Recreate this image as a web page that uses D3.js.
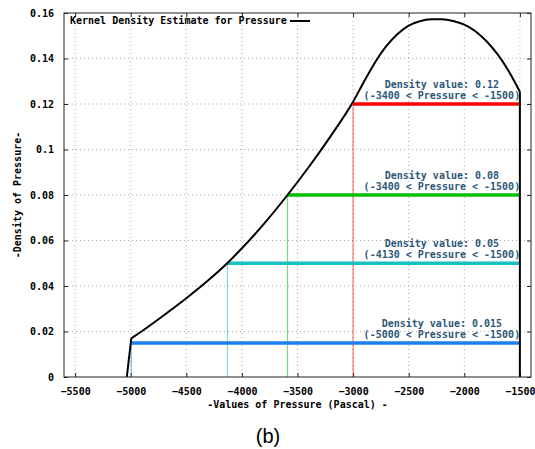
<!DOCTYPE html>
<html>
<head>
<meta charset="utf-8">
<script src="https://cdn.jsdelivr.net/npm/d3@7/dist/d3.min.js"></script>
<style>
  body { margin: 0; background: #fff; }
  svg { display: block; }
  text { font-family: 'DejaVu Sans Mono', monospace; font-weight: bold; font-size: 10px; }
</style>
</head>
<body>
<div id="chart"></div>
<script>
// kernel density curve
const pressure = [-5035, -4995, -4900, -4750, -4500, -4300, -4130, -4000, -3800, -3590, -3400, -3200, -3000,
  -2900, -2800, -2700, -2600, -2500, -2400, -2300, -2200, -2100, -2000, -1900, -1800, -1700, -1600, -1500]
const density = [0, 0.017, 0.0201, 0.0254, 0.0346, 0.0426, 0.0501, 0.0566, 0.0674, 0.080, 0.0922, 0.106, 0.121,
  0.1300, 0.1385, 0.1455, 0.1508, 0.1545, 0.1564, 0.1572, 0.1572, 0.1565, 0.1549, 0.1520, 0.1476, 0.1418, 0.1344, 0.1254]

// density thresholds and the pressure where the curve crosses them
const levelValues = [0.12, 0.08, 0.05, 0.015]
const levelStarts = [-3000, -3590, -4130, -4995]
const levelEnd = -1500
const levelTitles = ['Density value: 0.12', 'Density value: 0.08', 'Density value: 0.05', 'Density value: 0.015']
const levelRanges = ['(-3400 < Pressure < -1500)', '(-3400 < Pressure < -1500)', '(-4130 < Pressure < -1500)', '(-5000 < Pressure < -1500)']

const xTicks = [-5500, -5000, -4500, -4000, -3500, -3000, -2500, -2000, -1500]
const yTicks = [0, 0.02, 0.04, 0.06, 0.08, 0.1, 0.12, 0.14, 0.16]
const yTickLabels = ['0', '0.02', '0.04', '0.06', '0.08', '0.1', '0.12', '0.14', '0.16']

const levelColors = ['#ff0000', '#00c000', '#18c0c0', '#1a80f0']

const width = 535
const height = 449
const margin = { top: 13, right: 4, bottom: 72, left: 64 }
const iw = width - margin.left - margin.right
const ih = height - margin.top - margin.bottom

const svg = d3.select('#chart').append('svg')
  .attr('width', width)
  .attr('height', height)

const g = svg.append('g').attr('transform', `translate(${margin.left},${margin.top})`)

const x = d3.scaleLinear().domain([-5600, -1400]).range([0, iw])
const y = d3.scaleLinear().domain([0, 0.16]).range([ih, 0])

// grid
g.append('g').selectAll('line')
  .data(xTicks)
  .enter().append('line')
  .attr('x1', d => x(d)).attr('x2', d => x(d))
  .attr('y1', 0).attr('y2', ih)
  .attr('stroke', '#aaa')
  .attr('stroke-dasharray', '1,3')
g.append('g').selectAll('line')
  .data(yTicks.slice(1, -1))
  .enter().append('line')
  .attr('x1', 0).attr('x2', iw)
  .attr('y1', d => y(d)).attr('y2', d => y(d))
  .attr('stroke', '#aaa')
  .attr('stroke-dasharray', '1,3')

// axes with inward ticks, mirrored
const bottom = g.append('g').attr('transform', `translate(0,${ih})`)
  .call(d3.axisBottom(x).tickValues(xTicks).tickFormat(d3.format('d')).tickSizeInner(-4).tickSizeOuter(0).tickPadding(11))
const left = g.append('g')
  .call(d3.axisLeft(y).tickValues(yTicks).tickFormat((d, i) => yTickLabels[i]).tickSizeInner(-4).tickSizeOuter(0).tickPadding(10))
g.append('g')
  .call(d3.axisTop(x).tickValues(xTicks).tickSizeInner(-4).tickSizeOuter(0).tickFormat(''))
g.append('g').attr('transform', `translate(${iw},0)`)
  .call(d3.axisRight(y).tickValues(yTicks).tickSizeInner(-4).tickSizeOuter(0).tickFormat(''))
g.selectAll('.domain').remove()
g.selectAll('.tick line').attr('stroke', '#222')
bottom.selectAll('text').attr('fill', '#000')
left.selectAll('text').attr('fill', '#000')

// vertical drop lines
g.append('g').selectAll('line')
  .data(levelValues)
  .enter().append('line')
  .attr('x1', (d, i) => x(levelStarts[i])).attr('x2', (d, i) => x(levelStarts[i]))
  .attr('y1', ih).attr('y2', d => y(d))
  .attr('stroke', (d, i) => levelColors[i])
  .attr('stroke-opacity', 0.55)
  .attr('stroke-width', 1.2)

// horizontal level lines
g.append('g').selectAll('line')
  .data(levelValues)
  .enter().append('line')
  .attr('x1', (d, i) => x(levelStarts[i])).attr('x2', x(levelEnd))
  .attr('y1', d => y(d)).attr('y2', d => y(d))
  .attr('stroke', (d, i) => levelColors[i])
  .attr('stroke-width', 3.5)

// density curve: sharp rise at the left end, smooth after the corner
const pts = pressure.map((p, i) => [p, density[i]])
const lineGen = d3.line().x(d => x(d[0])).y(d => y(d[1]))
g.append('path')
  .datum(pts.slice(0, 2))
  .attr('fill', 'none')
  .attr('stroke', '#000')
  .attr('stroke-width', 2)
  .attr('d', lineGen)
g.append('path')
  .datum(pts.slice(1))
  .attr('fill', 'none')
  .attr('stroke', '#000')
  .attr('stroke-width', 2)
  .attr('d', lineGen.curve(d3.curveMonotoneX))
g.append('line')
  .attr('x1', x(levelEnd)).attr('x2', x(levelEnd))
  .attr('y1', y(density[density.length - 1])).attr('y2', ih)
  .attr('stroke', '#000')
  .attr('stroke-width', 2)

// level labels
const labelX = x(levelEnd) - 78
const labels = g.append('g').selectAll('g')
  .data(levelValues)
  .enter().append('g')
  .attr('transform', d => `translate(${labelX},${y(d)})`)
labels.append('text')
  .attr('y', -16)
  .attr('text-anchor', 'middle')
  .attr('fill', '#2e5878')
  .text((d, i) => levelTitles[i])
labels.append('text')
  .attr('y', -5)
  .attr('text-anchor', 'middle')
  .attr('fill', '#2e5878')
  .text((d, i) => levelRanges[i])

// frame
g.append('rect')
  .attr('width', iw).attr('height', ih)
  .attr('fill', 'none')
  .attr('stroke', '#222')

// legend
g.append('text')
  .attr('x', 6).attr('y', 11)
  .attr('fill', '#000')
  .text('Kernel Density Estimate for Pressure')
g.append('line')
  .attr('x1', 226).attr('x2', 246)
  .attr('y1', 8).attr('y2', 8)
  .attr('stroke', '#000')
  .attr('stroke-width', 2)

// axis titles
svg.append('text')
  .attr('x', margin.left + iw / 2).attr('y', 408)
  .attr('text-anchor', 'middle')
  .attr('fill', '#000')
  .text('-Values of Pressure (Pascal) -')
svg.append('text')
  .attr('transform', `translate(21,${margin.top + ih / 2}) rotate(-90)`)
  .attr('text-anchor', 'middle')
  .attr('fill', '#000')
  .text('-Density of Pressure-')

svg.append('text')
  .attr('x', 268).attr('y', 443)
  .attr('text-anchor', 'middle')
  .style('font-family', "'Liberation Sans', Arial, sans-serif")
  .style('font-weight', 'normal')
  .style('font-size', '20px')
  .attr('fill', '#000')
  .text('(b)')
</script>
</body>
</html>
